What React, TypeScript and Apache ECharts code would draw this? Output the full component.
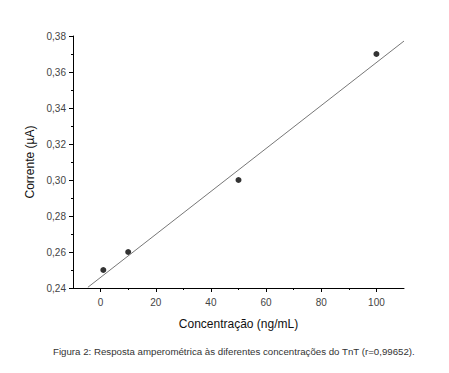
import React, { useEffect, useRef } from "react";
import * as echarts from "echarts";

const pointsX = [1, 10, 50, 100];
const pointsY = [0.25, 0.26, 0.3, 0.37];
const fitX = [-4.6, 110];
const fitY = [0.2404, 0.3772];
const xMajorTicks = [0, 20, 40, 60, 80, 100];
const xMinorTicks = [10, 30, 50, 70, 90];
const caption =
  "Figura 2: Resposta amperométrica às diferentes concentrações do TnT (r=0,99652).";

const FONT = "'Liberation Sans', Arial, sans-serif";

export default function App() {
  const ref = useRef<HTMLDivElement>(null);
  useEffect(() => {
    if (!ref.current) return;
    const chart = echarts.init(ref.current, null, { renderer: "svg" });
    chart.setOption({
      animation: false,
      backgroundColor: "#ffffff",
      grid: { left: 73, top: 36, width: 331, height: 252, containLabel: false },
      xAxis: [
        {
          type: "value",
          min: -10,
          max: 110,
          name: "Concentração (ng/mL)",
          nameLocation: "middle",
          nameGap: 30,
          nameTextStyle: { fontFamily: FONT, fontSize: 12, color: "#111" },
          axisLine: { show: true, onZero: false, lineStyle: { color: "#000", width: 1 } },
          axisTick: { show: true, length: 4, customValues: xMajorTicks, lineStyle: { color: "#000" } },
          axisLabel: {
            customValues: xMajorTicks,
            margin: 9,
            fontFamily: FONT,
            fontSize: 10,
            color: "#444",
          },
          splitLine: { show: false },
        },
        {
          type: "value",
          min: -10,
          max: 110,
          position: "bottom",
          axisLine: { show: false, onZero: false },
          axisTick: { show: true, length: 2, customValues: xMinorTicks, lineStyle: { color: "#000" } },
          axisLabel: { show: false },
          splitLine: { show: false },
        },
      ],
      yAxis: {
        type: "value",
        min: 0.24,
        max: 0.38,
        interval: 0.02,
        name: "Corrente (µA)",
        nameLocation: "middle",
        nameGap: 36,
        nameRotate: 90,
        nameTextStyle: { fontFamily: FONT, fontSize: 12, color: "#111" },
        axisLine: { show: true, onZero: false, lineStyle: { color: "#000", width: 1 } },
        axisTick: { show: true, length: 4, lineStyle: { color: "#000" } },
        minorTick: { show: true, splitNumber: 2, length: 2, lineStyle: { color: "#000" } },
        axisLabel: {
          margin: 7,
          fontFamily: FONT,
          fontSize: 10,
          color: "#444",
          formatter: (v: number) => v.toFixed(2).replace(".", ","),
        },
        splitLine: { show: false },
      },
      series: [
        {
          type: "line",
          data: fitX.map((x, i) => [x, fitY[i]]),
          showSymbol: false,
          symbol: "none",
          lineStyle: { color: "#777", width: 1 },
          silent: true,
        },
        {
          type: "scatter",
          data: pointsX.map((x, i) => [x, pointsY[i]]),
          symbolSize: 6,
          itemStyle: { color: "#000" },
        },
      ],
      graphic: [
        {
          type: "text",
          left: 53,
          top: 346,
          style: {
            text: caption,
            fontFamily: FONT,
            fontSize: 9.7,
            fill: "#333",
          },
        },
      ],
    });
    return () => chart.dispose();
  }, []);
  return (
    <div
      ref={ref}
      style={{ position: "absolute", left: 0, top: 0, width: 449, height: 373 }}
    />
  );
}
